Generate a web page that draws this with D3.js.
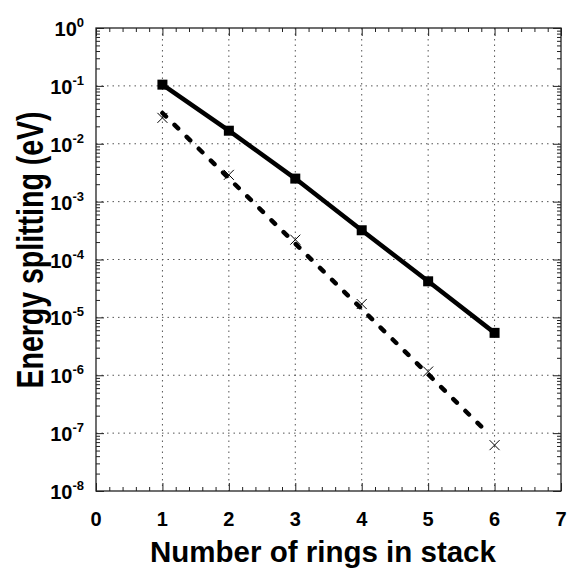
<!DOCTYPE html>
<html>
<head>
<meta charset="utf-8">
<script src="https://cdn.jsdelivr.net/npm/d3@7"></script>
<style>
  body { margin: 0; background: #fff; }
  text { font-family: "Liberation Sans", Arial, sans-serif; font-weight: bold; }
</style>
</head>
<body>
<svg id="chart" width="569" height="569"></svg>
<script>
// data
var rings = [1, 2, 3, 4, 5, 6];
var splitSquares = [0.105, 0.0168, 0.0025, 0.00032, 0.000042, 0.0000054];
var splitCrosses = [0.028, 0.0029, 0.00022, 0.000017, 0.00000116, 0.000000062];
// dashed fit line end points
var fitX = [1, 5.9];
var fitY = [0.034, 0.0000001];
var xTicks = [0, 1, 2, 3, 4, 5, 6, 7];
var yExps = [0, -1, -2, -3, -4, -5, -6, -7, -8];

var svg = d3.select("#chart");
var pLeft = 96, pTop = 28, pRight = 561, pBottom = 491;

var x = d3.scaleLinear().domain([0, 7]).range([pLeft, pRight]);
var y = d3.scaleLog().domain([1e-8, 1]).range([pBottom, pTop]);

// grid
var grid = svg.append("g").attr("stroke", "#555").attr("stroke-width", 1)
  .attr("stroke-dasharray", "1.5,4");
xTicks.filter(function(d) { return d > 0 && d < 7; }).forEach(function(d) {
  grid.append("line").attr("x1", x(d)).attr("x2", x(d))
    .attr("y1", pTop).attr("y2", pBottom);
});
yExps.filter(function(e) { return e < 0 && e > -8; }).forEach(function(e) {
  grid.append("line").attr("x1", pLeft).attr("x2", pRight)
    .attr("y1", y(Math.pow(10, e))).attr("y2", y(Math.pow(10, e)));
});

// axes (inward ticks)
var xMinor = d3.range(0, 7.001, 0.2).filter(function(d) { return Math.abs(d - Math.round(d)) > 0.01; });
var yMinor = [];
yExps.slice(1).forEach(function(e) {
  for (var k = 2; k <= 9; k++) yMinor.push(k * Math.pow(10, e));
});

function addAxis(axis, tr) {
  var g = svg.append("g").attr("transform", tr).call(axis);
  g.select(".domain").remove();
  g.selectAll("line").attr("stroke", "#222").attr("stroke-width", 1);
  return g;
}
var majY = yExps.map(function(e) { return Math.pow(10, e); });

addAxis(d3.axisBottom(x).tickValues(xTicks).tickSize(-8).tickFormat(""), "translate(0," + pBottom + ")");
addAxis(d3.axisBottom(x).tickValues(xMinor).tickSize(-4).tickFormat(""), "translate(0," + pBottom + ")");
addAxis(d3.axisTop(x).tickValues(xTicks).tickSize(-8).tickFormat(""), "translate(0," + pTop + ")");
addAxis(d3.axisTop(x).tickValues(xMinor).tickSize(-4).tickFormat(""), "translate(0," + pTop + ")");
addAxis(d3.axisLeft(y).tickValues(majY).tickSize(-8).tickFormat(""), "translate(" + pLeft + ",0)");
addAxis(d3.axisLeft(y).tickValues(yMinor).tickSize(-4).tickFormat(""), "translate(" + pLeft + ",0)");
addAxis(d3.axisRight(y).tickValues(majY).tickSize(-8).tickFormat(""), "translate(" + pRight + ",0)");
addAxis(d3.axisRight(y).tickValues(yMinor).tickSize(-4).tickFormat(""), "translate(" + pRight + ",0)");

// frame
svg.append("rect").attr("x", pLeft).attr("y", pTop)
  .attr("width", pRight - pLeft).attr("height", pBottom - pTop)
  .attr("fill", "none").attr("stroke", "#222").attr("stroke-width", 1.3);

// tick labels
svg.append("g").selectAll("text").data(xTicks).join("text")
  .attr("x", function(d) { return x(d); })
  .attr("y", 526)
  .attr("text-anchor", "middle")
  .attr("font-size", 20)
  .text(function(d) { return d; });

var yl = svg.append("g").selectAll("text").data(yExps).join("text")
  .attr("x", 84)
  .attr("y", function(e) { return y(Math.pow(10, e)) + 8; })
  .attr("text-anchor", "end")
  .attr("font-size", 20);
yl.append("tspan").text("10");
yl.append("tspan").attr("dy", -9).attr("font-size", 13)
  .text(function(e) { return e === 0 ? "0" : "-" + (-e); });

// axis titles
svg.append("text").attr("x", 323).attr("y", 561.5)
  .attr("text-anchor", "middle").attr("font-size", 29.5)
  .text("Number of rings in stack");
svg.append("text")
  .attr("transform", "translate(43,250) rotate(-90) scale(1,1.3)")
  .attr("text-anchor", "middle").attr("font-size", 28.5)
  .text("Energy splitting (eV)");

// dashed fit line
var line = d3.line().x(function(d) { return x(d[0]); }).y(function(d) { return y(d[1]); });
svg.append("path")
  .datum(d3.zip(fitX, fitY))
  .attr("d", line)
  .attr("fill", "none").attr("stroke", "#000").attr("stroke-width", 4.5)
  .attr("stroke-linecap", "round").attr("stroke-dasharray", "5,12");

// solid line with squares
var sq = d3.zip(rings, splitSquares);
svg.append("path").datum(sq).attr("d", line)
  .attr("fill", "none").attr("stroke", "#000").attr("stroke-width", 4.5);
svg.append("g").selectAll("rect").data(sq).join("rect")
  .attr("x", function(d) { return x(d[0]) - 5; })
  .attr("y", function(d) { return y(d[1]) - 5; })
  .attr("width", 10).attr("height", 10).attr("fill", "#000");

// crosses
var cr = d3.zip(rings, splitCrosses);
svg.append("g").selectAll("path").data(cr).join("path")
  .attr("d", function(d) {
    var cx = x(d[0]), cy = y(d[1]), s = 5;
    return "M" + (cx - s) + "," + (cy - s) + "L" + (cx + s) + "," + (cy + s) +
      "M" + (cx - s) + "," + (cy + s) + "L" + (cx + s) + "," + (cy - s);
  })
  .attr("stroke", "#000").attr("stroke-width", 1);
</script>
</body>
</html>
